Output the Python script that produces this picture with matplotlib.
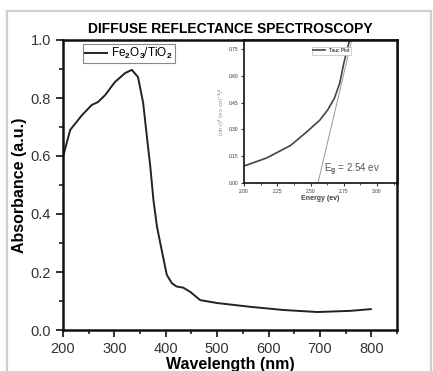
import numpy as np
import matplotlib
matplotlib.use("Agg")
import matplotlib.pyplot as plt
from matplotlib.patches import Rectangle
from matplotlib.ticker import MultipleLocator

plt.rcParams['font.family'] = ['Liberation Sans', 'DejaVu Sans']
plt.rcParams['mathtext.fontset'] = 'custom'
plt.rcParams['mathtext.rm'] = 'Liberation Sans:bold'
plt.rcParams['mathtext.it'] = 'Liberation Sans:bold'
plt.rcParams['mathtext.bf'] = 'Liberation Sans:bold'

# main spectrum
wavelength = [200, 214, 237, 256, 268, 282, 301, 321, 334, 346, 356, 364, 370,
              376, 383, 395, 402, 412, 421, 434, 448, 467, 500, 564, 629, 695,
              759, 799]
absorbance = [0.597, 0.69, 0.741, 0.776, 0.786, 0.81, 0.855, 0.886, 0.897, 0.872,
              0.783, 0.655, 0.562, 0.448, 0.355, 0.25, 0.19, 0.161, 0.15, 0.146,
              0.131, 0.103, 0.093, 0.08, 0.069, 0.062, 0.066, 0.072]

# tauc plot (inset)
energy = [2.00, 2.17, 2.35, 2.47, 2.57, 2.63, 2.68, 2.72, 2.75, 2.80]
tauc = [0.095, 0.14, 0.21, 0.285, 0.352, 0.41, 0.475, 0.56, 0.67, 0.82]
fit_e = [2.556, 2.81]
fit_y = [0.0, 0.80]
eg_text = "E$_g$ = 2.54 ev"

W, H = 433, 371
fig = plt.figure(figsize=(W / 100, H / 100), dpi=100)

def box(l, t, r, b):
    return [l / W, 1 - b / H, (r - l) / W, (b - t) / H]

# gray frame around the picture
fig.patches.append(Rectangle((7 / W, -0.1), 424 / W, 1.1 - 11 / H, transform=fig.transFigure,
                             fill=False, edgecolor='#cfcfcf', linewidth=1.6))

ax = fig.add_axes(box(63, 40, 397, 330))
ax.plot(wavelength, absorbance, color='#222222', linewidth=1.4,
        label='Fe$_2$O$_3$/TiO$_2$')
ax.set_xlim(200, 850)
ax.set_ylim(0, 1.0)
ax.xaxis.set_major_locator(MultipleLocator(100))
ax.xaxis.set_minor_locator(MultipleLocator(50))
ax.yaxis.set_major_locator(MultipleLocator(0.2))
ax.yaxis.set_minor_locator(MultipleLocator(0.1))
ax.set_xticks([200, 300, 400, 500, 600, 700, 800])
ax.tick_params(which='major', direction='out', length=5, width=1.3, labelsize=10.5,
               colors='#222222', labelcolor='#333333')
ax.tick_params(which='minor', direction='out', length=3, width=1.2, colors='#222222')
for s in ax.spines.values():
    s.set_linewidth(1.8)
    s.set_color('#111111')
ax.set_xlabel('Wavelength (nm)', fontsize=11.5, fontweight='bold', labelpad=1)
ax.set_ylabel('Absorbance (a.u.)', fontsize=11.5, fontweight='bold', labelpad=3)
ax.set_title('DIFFUSE REFLECTANCE SPECTROSCOPY', fontsize=10, fontweight='bold', pad=5)
leg = ax.legend(loc='upper left', bbox_to_anchor=(0.06, 0.985), fontsize=8.5,
                fancybox=False, framealpha=1, edgecolor='#888888', handlelength=1.9,
                borderpad=0.15, handletextpad=0.35, borderaxespad=0)
leg.get_frame().set_linewidth(0.8)

# inset tauc plot
ins = fig.add_axes(box(244, 40, 397, 183))
ins.plot(energy, tauc, color='#444444', linewidth=1.2, label='Tauc Plot')
ins.plot(fit_e, fit_y, color='#999999', linewidth=0.7)
ins.set_xlim(2.0, 3.15)
ins.set_ylim(0, 0.80)
ins.xaxis.set_major_locator(MultipleLocator(0.25))
ins.xaxis.set_minor_locator(MultipleLocator(0.125))
ins.set_yticks([0.0, 0.15, 0.30, 0.45, 0.60, 0.75])
ins.set_xticklabels(['%.2f' % v for v in ins.get_xticks()])
ins.set_yticklabels(['%.2f' % v for v in ins.get_yticks()])
ins.tick_params(which='major', direction='out', length=2.5, width=0.8, labelsize=3.5,
                colors='#333333', pad=1.5)
ins.tick_params(which='minor', direction='out', length=1.5, width=0.6, colors='#333333')
for name, s in ins.spines.items():
    s.set_linewidth(1.8 if name in ('top', 'right') else 1.2)
    s.set_color('#111111')
ins.set_xlabel('Energy (ev)', fontsize=5, fontweight='bold', color='#444444', labelpad=1)
ins.set_ylabel('(\u03b1h\u03bd)$^2$ (ev cm$^{-1}$)$^2$', fontsize=4.5, color='#999999', labelpad=1)
ins.text(2.6, 0.06, eg_text, fontsize=7, color='#555555')
ileg = ins.legend(loc='upper center', bbox_to_anchor=(0.57, 0.97), fontsize=3.5,
                  fancybox=False, framealpha=1, edgecolor='#bbbbbb', handlelength=2.5,
                  borderpad=0.3)
ileg.get_frame().set_linewidth(0.5)

fig.savefig('out.png', dpi=100)
